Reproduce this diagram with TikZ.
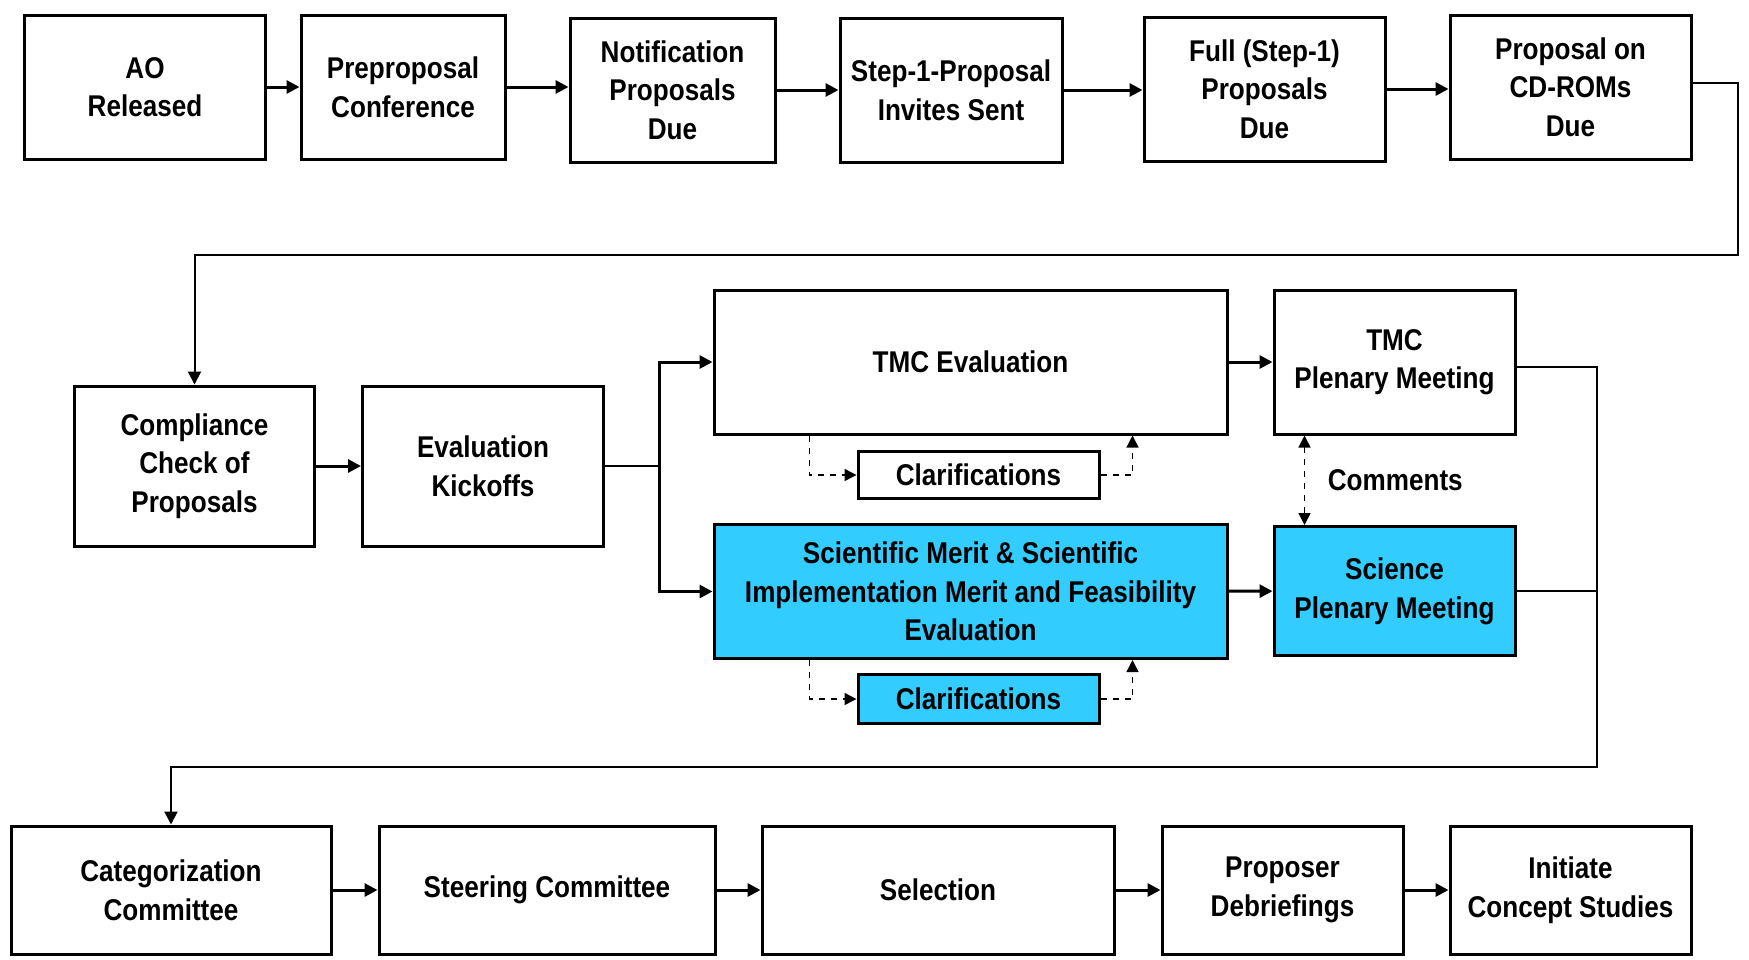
\documentclass[tikz,border=0pt]{standalone}
\usepackage{fontspec}
\setmainfont{Liberation Sans}[FakeStretch=0.87]
\usepackage{tikz}
\usetikzlibrary{arrows.meta}
\definecolor{scicyan}{RGB}{51,204,255}

\begin{document}
\begin{tikzpicture}[x=0.5pt, y=-0.5pt,
                stage/.style={draw, line width=1.5pt, align=center, inner sep=0pt,
                  font=\fontsize{15pt}{19.3pt}\selectfont\bfseries},
                sci/.style={stage, fill=scicyan},
                flow/.style={line width=1.5pt, -{Triangle[length=6.5pt,width=6.5pt]}},
                link/.style={line width=1pt},
                back/.style={line width=1pt, -{Triangle[length=6.5pt,width=6.5pt]}},
                dflow/.style={line width=0.7pt, dashed, -{Triangle[length=6pt,width=6pt]}}
                ]
                \useasboundingbox (0,0) rectangle (1749,959);
                \node[stage, minimum width=120.5pt, minimum height=72pt] (ao) at (145,87) {AO\\Released};
                \node[stage, minimum width=102pt, minimum height=72pt] (prep) at (403,87) {Preproposal\\Conference};
                \node[stage, minimum width=102.5pt, minimum height=72pt] (notif) at (672.5,90) {Notification\\Proposals\\Due};
                \node[stage, minimum width=111pt, minimum height=72pt] (invite) at (951,90) {Step-1-Proposal\\Invites Sent};
                \node[stage, minimum width=120.5pt, minimum height=72pt] (full) at (1264.5,89) {Full (Step-1)\\Proposals\\Due};
                \node[stage, minimum width=120.5pt, minimum height=72pt] (cdrom) at (1570.5,87) {Proposal on\\CD-ROMs\\Due};
                \draw[flow] (ao) -- (prep);
                \draw[flow] (prep.east) -- (prep.east -| notif.west);
                \draw[flow] (notif.east) -- (notif.east -| invite.west);
                \draw[flow] (invite.east) -- (invite.east -| full.west);
                \draw[flow] (full.east) -- (full.east -| cdrom.west);
                \node[stage, minimum width=120pt, minimum height=80pt] (comp) at (194.5,466) {Compliance\\Check of\\Proposals};
                \node[stage, minimum width=120.5pt, minimum height=80pt] (kick) at (483,466) {Evaluation\\Kickoffs};
                \coordinate (r1) at (1738,255);
                \draw[back] ([yshift=2pt]cdrom.east) -| (r1) -| (comp.north);
                \draw[flow] (comp) -- (kick);
                \node[stage, minimum width=256.5pt, minimum height=72pt] (tmc) at (970.5,362) {TMC Evaluation};
                \node[stage, minimum width=120.5pt, minimum height=72pt] (tmcpl) at (1394.5,362) {TMC\\Plenary Meeting};
                \node[stage, minimum width=120.5pt, minimum height=23.5pt] (clar1) at (978.5,475) {Clarifications};
                \node[sci, minimum width=256.5pt, minimum height=67pt] (merit) at (970.5,591.5) {Scientific Merit \& Scientific\\Implementation Merit and Feasibility\\Evaluation};
                \node[sci, minimum width=120.5pt, minimum height=64.5pt] (scipl) at (1394.5,591) {Science\\Plenary Meeting};
                \node[sci, minimum width=120.5pt, minimum height=24.5pt] (clar2) at (978.5,699) {Clarifications};
                \coordinate (split) at (659,466);
                \draw[link] (kick.east) -- (split);
                \draw[flow] (split) |- (tmc.west);
                \draw[flow] (split) |- (merit.west);
                \draw[flow] (tmc) -- (tmcpl);
                \draw[flow] (merit) -- (scipl);
                \draw[dflow] ([xshift=48.5pt]tmc.south west) |- (clar1.west);
                \draw[dflow] (clar1.east) -| ([xshift=-48pt]tmc.south east);
                \draw[dflow] ([xshift=48.5pt]merit.south west) |- (clar2.west);
                \draw[dflow] (clar2.east) -| ([xshift=-48pt]merit.south east);
                \draw[dflow, {Triangle[length=6pt,width=6pt]}-{Triangle[length=6pt,width=6pt]}]
                  ([xshift=16pt]tmcpl.south west) -- ([xshift=16pt]scipl.north west)
                  node[midway, right=8pt, font=\fontsize{15pt}{19pt}\selectfont\bfseries] (comments) {Comments};
                \node[stage, minimum width=160pt, minimum height=64pt] (cat) at (171,890) {Categorization\\Committee};
                \node[stage, minimum width=168pt, minimum height=64pt] (steer) at (547,890) {Steering Committee};
                \node[stage, minimum width=176pt, minimum height=64pt] (sel) at (938,890) {Selection};
                \node[stage, minimum width=120.5pt, minimum height=64pt] (deb) at (1282.5,890) {Proposer\\Debriefings};
                \node[stage, minimum width=120.5pt, minimum height=64pt] (init) at (1570.5,890) {Initiate\\Concept Studies};
                \coordinate (r2) at (1597,767);
                \draw[back] ([yshift=-2.5pt]tmcpl.east) -| (r2) -| (cat.north);
                \draw[link] (scipl.east) -- (scipl.east -| r2);
                \draw[flow] (cat) -- (steer);
                \draw[flow] (steer) -- (sel);
                \draw[flow] (sel) -- (deb);
                \draw[flow] (deb) -- (init);
              \end{tikzpicture}
\end{document}
